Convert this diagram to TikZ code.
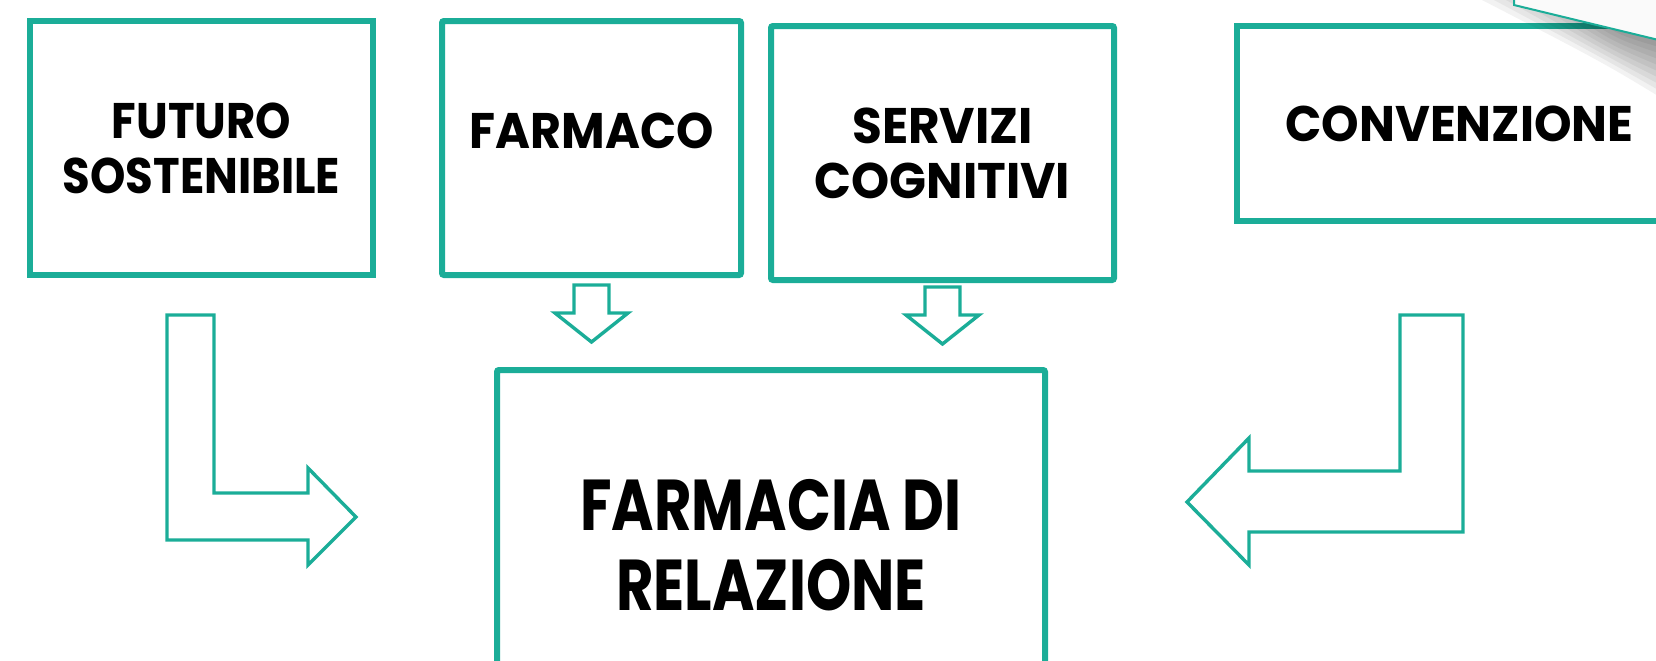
\documentclass[tikz,border=0pt]{standalone}
\usepackage{fontspec}
\setmainfont{Poppins}
\usepackage{tikz}
\definecolor{tealline}{HTML}{1BAD98}

\begin{document}
\begin{tikzpicture}[
  x=0.5pt, y=-0.5pt,
  topic/.style={rectangle, draw=tealline, line width=3pt, fill=white, align=center, inner sep=0pt, squeeze=0.95},
  squeeze/.style={font=\bfseries\fontsize{25}{27.5}\selectfont\addfontfeature{FakeStretch=#1}},
  core/.style={topic, font=\bfseries\fontsize{36}{40}\selectfont\addfontfeature{FakeStretch=0.8}},
  blockarrow/.style={draw=tealline, line width=1.7pt, line join=miter, fill=white}
  ]
\useasboundingbox (0,0) rectangle (1656,660);
\clip (0,0) rectangle (1656,660);

\node[topic, squeeze=0.9, minimum width=171.5pt, minimum height=127pt] (futuro) at (201.5,148) {FUTURO\\SOSTENIBILE};
\node[topic, rounded corners=1pt, minimum width=149.5pt, minimum height=127pt, text depth=17pt] (farmaco) at (591.5,148) {FARMACO};
\node[topic, squeeze=0.97, rounded corners=1pt, minimum width=171.5pt, minimum height=127pt] (servizi) at (942.5,153) {SERVIZI\\COGNITIVI};
\node[topic, squeeze=0.955, minimum width=222.5pt, minimum height=97.5pt] (convenzione) at (1459.5,123.5) {CONVENZIONE};
\node[core, rounded corners=1pt, minimum width=274pt, minimum height=175pt] (farmacia) at (771,545) {FARMACIA DI\\RELAZIONE};

\draw[blockarrow] (167,315) -- (214,315) -- (214,493) -- (308,493) -- (308,468) -- (356,517) -- (308,565) -- (308,540) -- (167,540) -- cycle;
\draw[blockarrow] (1400,315) -- (1463,315) -- (1463,532) -- (1249,532) -- (1249,565) -- (1187,502) -- (1249,438) -- (1249,471) -- (1400,471) -- cycle;
\foreach \cx/\ty in {591.5/285, 942.5/287}
  \draw[blockarrow] (\cx-17.5,\ty) -- (\cx+17.5,\ty) -- (\cx+17.5,\ty+28) -- (\cx+36.5,\ty+28) -- (\cx,\ty+57) -- (\cx-36.5,\ty+28) -- (\cx-17.5,\ty+28) -- cycle;

\foreach \k in {1,...,10}
  \fill[black, opacity=0.05] (1470+12*\k,0) -- (1700,0) -- (1700,130-8*\k) .. controls (1610,70-4*\k) .. (1470+12*\k,0);
\fill[white!98!black] (1514,-20) -- (1514,5) -- (1700,50) -- (1700,-20) -- cycle;
\draw[tealline, line width=1pt] (1514,-20) -- (1514,5) -- (1700,50);

\end{tikzpicture}
\end{document}
